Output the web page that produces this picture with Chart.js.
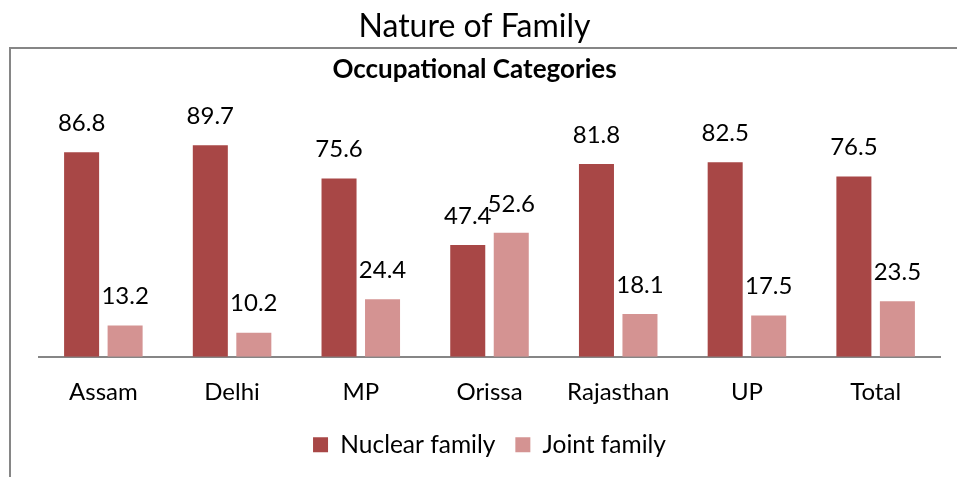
<!DOCTYPE html>
<html lang="en">
<head>
    <meta charset="UTF-8">
    <title>Nature of Family</title>
    <script src="https://cdn.jsdelivr.net/npm/chart.js"></script>
    <style>
        html, body { margin: 0; padding: 0; background: #fff; }
        .wrap { width: 957px; height: 477px; }
    </style>
</head>
<body>
    <div class="wrap">
        <canvas id="family-chart" width="957" height="477"></canvas>
    </div>
    <script>
    const states = ['Assam', 'Delhi', 'MP', 'Orissa', 'Rajasthan', 'UP', 'Total'];
    const nuclearFamily = [86.8, 89.7, 75.6, 47.4, 81.8, 82.5, 76.5];
    const jointFamily = [13.2, 10.2, 24.4, 52.6, 18.1, 17.5, 23.5];

    const FONT = 'Lato, "Open Sans", sans-serif';

    // borde gris del recuadro (solo arriba e izquierda visibles)
    const framePlugin = {
        id: 'frame',
        beforeDraw(chart) {
            const ctx = chart.ctx;
            ctx.save();
            ctx.strokeStyle = '#868686';
            ctx.lineWidth = 2;
            ctx.beginPath();
            ctx.moveTo(10, 477);
            ctx.lineTo(10, 48);
            ctx.lineTo(957, 48);
            ctx.stroke();
            ctx.restore();
        }
    };

    // etiquetas de valor encima de cada barra
    const valueLabels = {
        id: 'valueLabels',
        afterDatasetsDraw(chart) {
            const ctx = chart.ctx;
            ctx.save();
            ctx.font = '24px ' + FONT;
            ctx.fillStyle = '#000';
            ctx.textAlign = 'center';
            ctx.textBaseline = 'middle';
            chart.data.datasets.forEach((ds, i) => {
                chart.getDatasetMeta(i).data.forEach((bar, j) => {
                    ctx.fillText(ds.data[j].toFixed(1), bar.x, bar.y - 29);
                });
            });
            ctx.restore();
        }
    };

    new Chart(document.getElementById('family-chart').getContext('2d'), {
        type: 'bar',
        data: {
            labels: states,
            datasets: [{
                label: 'Nuclear family',
                data: nuclearFamily,
                backgroundColor: '#A84746'
            }, {
                label: 'Joint family',
                data: jointFamily,
                backgroundColor: '#D49392'
            }]
        },
        options: {
            responsive: false,
            animation: false,
            layout: { padding: { left: 9, right: 17, top: 0, bottom: 10 } },
            datasets: {
                bar: { categoryPercentage: 0.676, barPercentage: 0.805 }
            },
            scales: {
                x: {
                    grid: { display: false, drawTicks: false },
                    border: { display: true, color: '#868686', width: 2 },
                    ticks: { color: '#000', font: { family: FONT, size: 24 }, padding: 21 },
                    afterFit(scale) { scale.height -= 15; }
                },
                y: {
                    min: 0,
                    max: 100,
                    grid: { display: false, drawTicks: false },
                    border: { display: false },
                    ticks: { display: false },
                    afterFit(scale) { scale.width = 30; }
                }
            },
            plugins: {
                title: {
                    display: true,
                    text: 'Nature of Family',
                    color: '#000',
                    font: { family: FONT, size: 32, weight: 'normal' },
                    padding: { top: 7.5, bottom: 8 }
                },
                subtitle: {
                    display: true,
                    text: 'Occupational Categories',
                    color: '#000',
                    font: { family: FONT, size: 26, weight: 'bold' },
                    padding: { top: 0, bottom: 36 }
                },
                legend: {
                    position: 'bottom',
                    fullSize: false,
                    labels: {
                        boxWidth: 15,
                        boxHeight: 15,
                        padding: 20,
                        color: '#000',
                        font: { family: FONT, size: 24.5 }
                    }
                },
                tooltip: { enabled: false }
            }
        },
        plugins: [framePlugin, valueLabels]
    });
    </script>
</body>
</html>
